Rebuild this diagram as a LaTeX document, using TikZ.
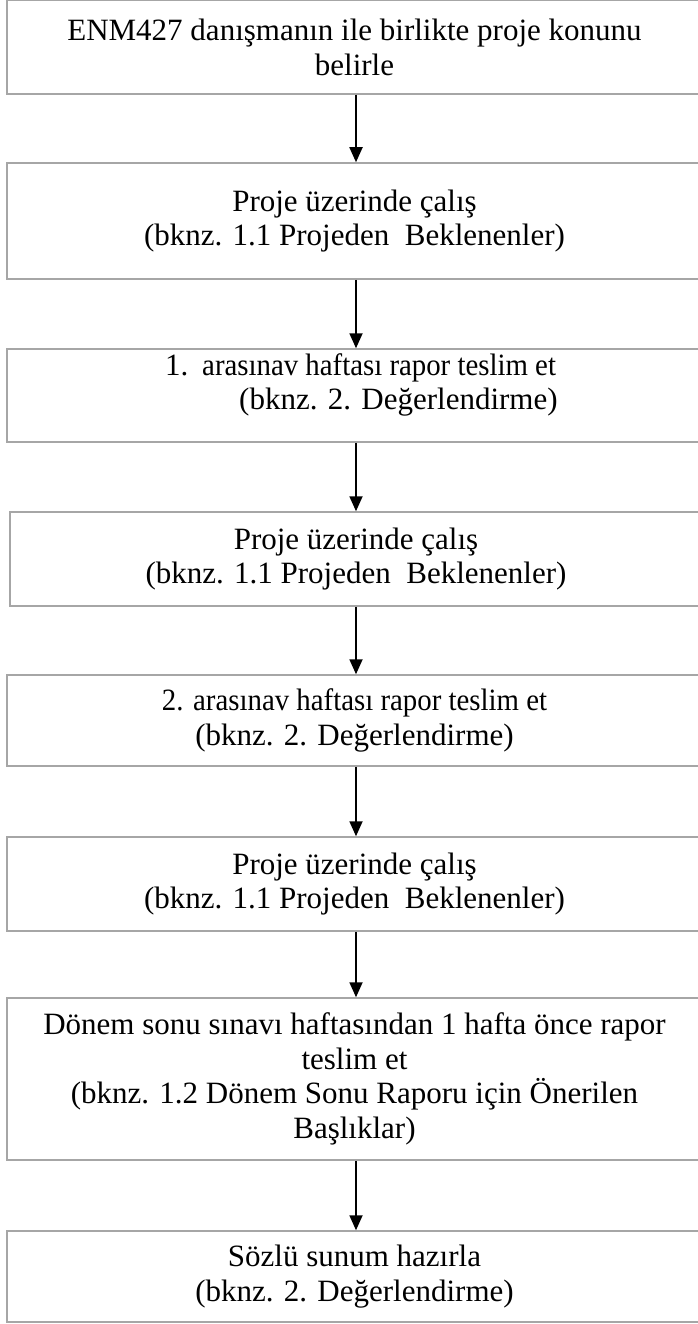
\documentclass[tikz,border=0pt]{standalone}
\usepackage{fontspec}
\setmainfont{Liberation Serif}
\usetikzlibrary{arrows.meta}
\definecolor{boxgray}{RGB}{166,166,166}
\begin{document}
\begin{tikzpicture}[x=1pt,y=-1pt,
  box/.style={draw=boxgray, line width=1.5pt, minimum width=695pt, inner sep=0pt, align=center,
    font=\fontsize{31}{34.5}\selectfont},
  txt/.style={inner sep=0pt, align=left, font=\fontsize{31}{34.5}\selectfont},
  arr/.style={line width=1.8pt, -{Triangle[width=13pt,length=15pt]}}]
\useasboundingbox (0,0) rectangle (698,1324);
\clip (0,0) rectangle (698,1324);
\coordinate (ax) at (356,0);
\node[box, minimum height=93.5] (b1) at (354.5,47.25) {ENM427 danışmanın ile birlikte proje konunu\\belirle};
\node[box, minimum height=116] (b2) at (354.5,221) {Proje üzerinde çalış\\(bknz. 1.1 Projeden\ \ Beklenenler)};
\node[box, minimum height=93] (b3) at (354.5,395.5) {};
\node[txt, anchor=west] (t3) at (165,385) {\makebox[37pt][l]{1.}\scalebox{0.93}[1]{arasınav haftası rapor teslim et}\\\hspace*{74pt}(bknz. 2. Değerlendirme)};
\node[box, minimum height=94, minimum width=692pt] (b4) at (356,559) {Proje üzerinde çalış\\(bknz. 1.1 Projeden\ \ Beklenenler)};
\node[box, minimum height=91] (b5) at (354.5,720.5) {\scalebox{0.93}[1]{2. arasınav haftası rapor teslim et}\\(bknz. 2. Değerlendirme)};
\node[box, minimum height=94] (b6) at (354.5,884) {Proje üzerinde çalış\\(bknz. 1.1 Projeden\ \ Beklenenler)};
\node[box, minimum height=162] (b7) at (354.5,1079) {Dönem sonu sınavı haftasından 1 hafta önce rapor\\teslim et\\(bknz. 1.2 Dönem Sonu Raporu için Önerilen\\Başlıklar)};
\node[box, minimum height=91] (b8) at (354.5,1276.5) {Sözlü sunum hazırla\\(bknz. 2. Değerlendirme)};
\foreach \a/\b in {b1/b2,b2/b3,b3/b4,b4/b5,b5/b6,b6/b7,b7/b8}
  \draw[arr] (\a.south -| ax) -- (\b.north -| ax);
\end{tikzpicture}
\end{document}
